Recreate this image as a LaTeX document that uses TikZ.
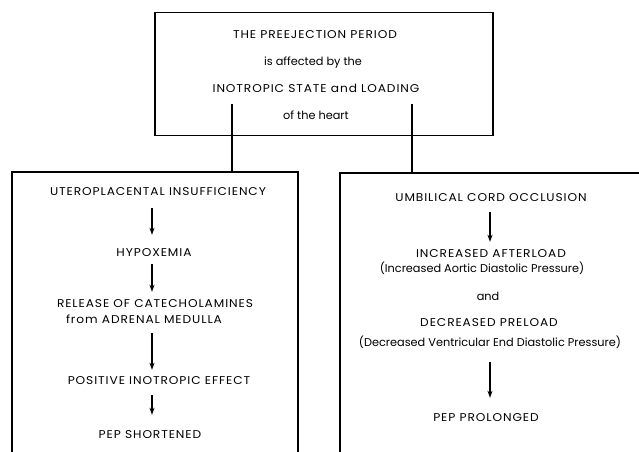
\documentclass[tikz,border=0pt]{standalone}
\usepackage{fontspec}
\setmainfont{Poppins}[FakeStretch=1.08, LetterSpace=8]
\newfontfamily\lcfont{Poppins}
\usetikzlibrary{arrows.meta}
\tikzset{
  txt/.style={inner sep=0pt, text height=8pt, text depth=0pt, font=\fontsize{11.3}{13}\selectfont, text=black},
  lctxt/.style={txt, font=\lcfont\fontsize{11.3}{13}\selectfont},
  arr/.style={line width=1.1pt, -{Stealth[length=7pt,width=5pt]}},
  boxline/.style={line width=1.5pt},
  conn/.style={line width=1.5pt}
}
\begin{document}
\begin{tikzpicture}[x=1pt,y=1pt]
\useasboundingbox (0,0) rectangle (639,-451);
% top box
\node[boxline, draw, minimum width=338pt, minimum height=123pt, inner sep=0pt] (top) at (324,-74) {};
\node[txt] (t1) at (315,-34) {THE PREEJECTION PERIOD};
\node[lctxt] (t2) at (313,-61) {is affected by the};
\node[txt] (t3) at (316,-88) {INOTROPIC STATE and LOADING};
\node[lctxt] (t4) at (316,-115) {of the heart};
% connector start points
\coordinate (cl) at (232,-104);
\coordinate (cr) at (412,-104);
% left box
\coordinate (lbl) at (12,-452);
\coordinate (lbr) at (298,-452);
\draw[boxline] (lbl) -- (12,-172) coordinate (ltl) -- (298,-172) coordinate (ltr) -- (lbr);
% right box
\coordinate (rbl) at (340,-452);
\draw[boxline] (rbl) -- (340,-173) coordinate (rtl) -- (645,-173) coordinate (rtr);
% connectors
\draw[conn] (cl) -- (cl |- ltl);
\draw[conn] (cr) -- (cr |- rtl);
% left column
\node[txt] (u1) at (158,-191) {UTEROPLACENTAL INSUFFICIENCY};
\node[txt] (u2) at (154,-252) {HYPOXEMIA};
\node[txt] (u3) at (155,-303) {RELEASE OF CATECHOLAMINES};
\node[txt] (u3b) at (144,-319) {from ADRENAL MEDULLA};
\node[txt] (u4) at (159,-380) {POSITIVE INOTROPIC EFFECT};
\node[txt] (u5) at (150,-434) {PEP SHORTENED};
\coordinate (lx) at (152,0);
\draw[arr, shorten <=13pt, shorten >=13pt] (u1.south -| lx) -- (u2.north -| lx);
\draw[arr, shorten <=8pt, shorten >=7pt] (u2.south -| lx) -- (u3.north -| lx);
\draw[arr, shorten <=10pt, shorten >=6pt] (u3b.south -| lx) -- (u4.north -| lx);
\draw[arr, shorten <=11pt, shorten >=15pt] (u4.south -| lx) -- (u5.north -| lx);
% right column
\node[txt] (r1) at (491,-197) {UMBILICAL CORD OCCLUSION};
\node[txt] (r2) at (491,-253) {INCREASED AFTERLOAD};
\node[lctxt] (r2b) at (482,-268) {(Increased Aortic Diastolic Pressure)};
\node[lctxt] (r3) at (488,-296) {and};
\node[txt] (r4) at (489,-322) {DECREASED PRELOAD};
\node[lctxt] (r5) at (490,-342) {(Decreased Ventricular End Diastolic Pressure)};
\node[txt] (r6) at (486,-417) {PEP PROLONGED};
\coordinate (rx) at (490,0);
\draw[arr, shorten <=11pt, shorten >=7pt] (r1.south -| rx) -- (r2.north -| rx);
\draw[arr, shorten <=16pt, shorten >=15pt] (r5.south -| rx) -- (r6.north -| rx);
\end{tikzpicture}
\end{document}
